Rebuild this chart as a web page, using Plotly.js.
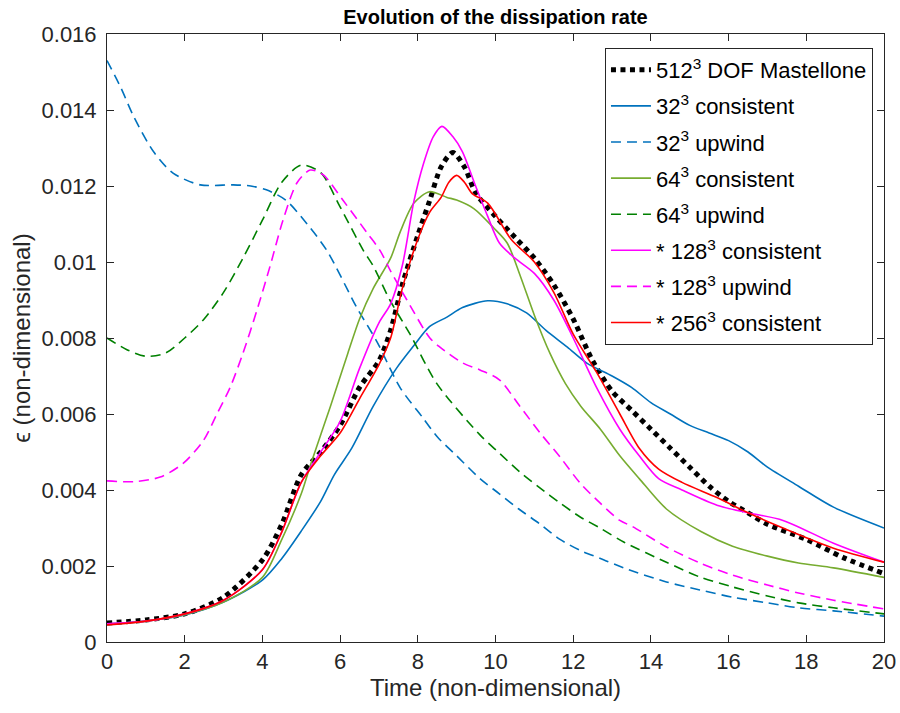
<!DOCTYPE html>
<html>
<head>
<meta charset="utf-8">
<script src="https://cdn.plot.ly/plotly-3.0.1.min.js"></script>
<style>html,body{margin:0;padding:0;background:#fff;}#chart{width:900px;height:713px;}</style>
</head>
<body>
<div id="chart"></div>
<script>
// Mastellone 512^3 DOF reference
const tMast = [0,1,2,3,4,4.5,5,5.5,6,6.5,7,7.3,7.6,8,8.3,8.6,8.9,9.2,9.5,10,10.5,11,11.5,12,12.5,13,13.5,14,14.5,15,15.5,16,16.5,17,18,19,20];
const eMast = [0.0005,0.00058,0.00074,0.00118,0.00216,0.0031,0.0044,0.0050,0.0057,0.0067,0.0074,0.0082,0.0094,0.0107,0.0116,0.0125,0.01288,0.0125,0.0118,0.0112,0.01065,0.0101,0.0094,0.0085,0.0074,0.0066,0.0061,0.0056,0.0051,0.0046,0.0041,0.0037,0.0034,0.0031,0.0027,0.0022,0.0018];

// 32^3 consistent
const t32c = [0,1,2,3,4,4.5,5,5.5,5.85,6.3,6.85,7.45,7.9,8.3,8.75,9.15,9.8,10.3,10.8,11.3,11.85,12.35,13,13.5,14,14.5,15,15.5,16,16.5,17,17.8,18.7,20];
const e32c = [0.00047,0.00055,0.00071,0.00105,0.00163,0.0022,0.00292,0.0037,0.0044,0.0051,0.0062,0.0072,0.0078,0.0083,0.00855,0.0088,0.00898,0.0089,0.00866,0.0082,0.00776,0.00734,0.0070,0.0067,0.0063,0.0060,0.0057,0.0055,0.0053,0.0050,0.0046,0.0041,0.00355,0.0030];

// 32^3 upwind
const t32u = [0,0.35,0.7,1.2,1.7,2.4,3.25,3.7,4.1,4.6,5.15,5.66,6.43,6.95,7.54,8.13,8.5,9,9.6,10.1,10.6,11.15,11.66,12.2,12.7,13.3,14.4,15.26,16.1,17,17.8,18.7,20];
const e32u = [0.0153,0.0146,0.0138,0.0129,0.01234,0.01203,0.01203,0.0120,0.0119,0.01163,0.0110,0.0103,0.0088,0.0079,0.0067,0.0059,0.0054,0.0049,0.0043,0.0039,0.0035,0.0031,0.0027,0.0024,0.0022,0.00195,0.00158,0.00137,0.00118,0.00103,0.0009,0.00082,0.00068];

// 64^3 consistent
const t64c = [0,1,2,3,4,4.5,5,5.25,5.75,6.2,6.5,6.85,7.3,7.55,7.9,8.3,8.75,9,9.45,9.95,10.3,10.65,11,11.4,11.8,12.2,12.7,13.2,13.7,14.4,15.3,16.1,17,17.8,18.7,20];
const e64c = [0.00047,0.00055,0.00072,0.00105,0.0017,0.0027,0.0039,0.0047,0.0062,0.0076,0.0085,0.0093,0.0101,0.0108,0.01155,0.01185,0.0117,0.01163,0.0114,0.0109,0.0105,0.0096,0.0086,0.0076,0.0068,0.0062,0.0056,0.0049,0.0043,0.0035,0.0029,0.00252,0.00226,0.00208,0.00195,0.0017];

// 64^3 upwind
const t64u = [0,0.5,1,1.5,2,2.5,3,3.5,4,4.5,5,5.5,6,6.6,6.85,7.28,7.8,8.49,9.6,10.1,10.63,11.15,11.66,12.18,12.69,13.3,14.4,15.26,16.1,17,17.8,18.7,20];
const e64u = [0.0080,0.0077,0.00752,0.0076,0.0080,0.0085,0.0092,0.0101,0.0111,0.0121,0.01255,0.01235,0.01145,0.0103,0.0099,0.0090,0.0081,0.0068,0.00545,0.00497,0.00447,0.00405,0.00366,0.00329,0.0030,0.00263,0.0021,0.00171,0.00145,0.00121,0.00103,0.0009,0.00074];

// 128^3 consistent
const t128c = [0,1,2,3,4,4.5,5,5.5,6,6.5,7,7.3,7.6,7.9,8.15,8.4,8.62,8.9,9.15,9.45,9.8,10.1,10.5,11,11.5,12,12.6,13.2,13.7,14.2,14.8,15.7,16.5,17.4,18.7,20];
const e128c = [0.00048,0.00055,0.00074,0.0011,0.0019,0.0029,0.0042,0.0050,0.0058,0.0072,0.0084,0.0089,0.0099,0.0116,0.0126,0.0133,0.01357,0.0133,0.0129,0.0121,0.0112,0.0105,0.0101,0.0097,0.0090,0.0080,0.0067,0.0056,0.0049,0.0043,0.0040,0.0036,0.0034,0.0032,0.0026,0.0021];

// 128^3 upwind
const t128u = [0,0.7,1.37,1.96,2.48,2.83,3.17,3.5,3.85,4.2,4.53,4.9,5.23,5.57,6.07,6.7,7.03,7.28,7.72,8.31,8.57,9.16,9.6,10.1,10.63,11.15,11.66,12.18,12.69,13.2,13.54,14.4,15.26,16.1,17,17.8,18.7,20];
const e128u = [0.00424,0.00422,0.00434,0.0047,0.0053,0.0060,0.0067,0.0076,0.0087,0.0099,0.0111,0.0121,0.01242,0.01229,0.01163,0.01076,0.0103,0.0098,0.0090,0.0080,0.00776,0.00734,0.00716,0.0069,0.0062,0.0055,0.00487,0.00418,0.00366,0.0032,0.00303,0.0025,0.00208,0.00176,0.0015,0.00129,0.0011,0.00087];

// 256^3 consistent
const t256c = [0,1,2,3,4,4.5,5,5.5,6,6.5,7,7.3,7.6,8,8.3,8.6,8.8,9.0,9.2,9.4,9.8,10.4,11,11.5,12,12.6,13.2,13.7,14.2,14.8,15.7,16.5,17.4,18.7,20];
const e256c = [0.00045,0.00055,0.00074,0.0011,0.0019,0.0029,0.0042,0.0049,0.0055,0.0064,0.0073,0.0080,0.0093,0.0106,0.0113,0.0117,0.0121,0.01228,0.0121,0.0118,0.01155,0.0106,0.0100,0.0092,0.0081,0.0071,0.0060,0.0051,0.00455,0.0042,0.0038,0.0034,0.0030,0.00247,0.0021];

const names = ['512<sup>3</sup> DOF Mastellone','32<sup>3</sup> consistent','32<sup>3</sup> upwind','64<sup>3</sup> consistent','64<sup>3</sup> upwind','* 128<sup>3</sup> consistent','* 128<sup>3</sup> upwind','* 256<sup>3</sup> consistent'];

function tr(x, y, i, color, width, dash) {
  return {x: x, y: y, name: names[i], type: 'scatter', mode: 'lines', legendgroup: 'g' + i,
    line: {color: color, width: width, dash: dash, shape: 'spline', smoothing: 0.8}};
}

const data = [
  tr(tMast, eMast, 0, '#000000', 5, '5px,4.5px'),
  tr(t32c, e32c, 1, '#0072BD', 1.6, 'solid'),
  tr(t32u, e32u, 2, '#0072BD', 1.6, '10px,6px'),
  tr(t64c, e64c, 3, '#77AC30', 1.6, 'solid'),
  tr(t64u, e64u, 4, '#008000', 1.6, '10px,6px'),
  tr(t128c, e128c, 5, '#FF00FF', 1.6, 'solid'),
  tr(t128u, e128u, 6, '#FF00FF', 1.6, '10px,6px'),
  tr(t256c, e256c, 7, '#FF0000', 1.6, 'solid')
];

const FONT = 'Liberation Sans, Arial, sans-serif';
const axisCommon = {
  showgrid: false, zeroline: false, showline: true, mirror: 'ticks',
  linecolor: '#262626', linewidth: 1, ticks: 'inside', ticklen: 7, tickcolor: '#262626',
  tickfont: {family: FONT, size: 22, color: '#262626'}
};

const layout = {
  width: 900, height: 713,
  margin: {l: 107, r: 16, t: 34, b: 71},
  paper_bgcolor: '#ffffff', plot_bgcolor: '#ffffff',
  font: {family: FONT, color: '#000000'},
  title: {text: '<b>Evolution of the dissipation rate</b>', x: 0.5, xref: 'paper', xanchor: 'center',
    y: 1 - 17/713, yref: 'container', yanchor: 'middle',
    font: {family: FONT, size: 20, color: '#000000'}},
  xaxis: Object.assign({}, axisCommon, {range: [0, 20], tickvals: [0,2,4,6,8,10,12,14,16,18,20],
    title: {text: 'Time (non-dimensional)', standoff: 5, font: {family: FONT, size: 24, color: '#262626'}}}),
  yaxis: Object.assign({}, axisCommon, {range: [0, 0.016], tickvals: [0,0.002,0.004,0.006,0.008,0.01,0.012,0.014,0.016],
    ticktext: ['0','0.002','0.004','0.006','0.008','0.01','0.012','0.014','0.016'],
    ticklabelstandoff: 5,
    title: {text: 'ϵ (non-dimensional)', standoff: 4, font: {family: FONT, size: 24, color: '#262626'}}}),
  showlegend: true,
  legend: {x: 0.9858, xanchor: 'right', y: 0.977, yanchor: 'top', xref: 'paper', yref: 'paper',
    bgcolor: '#ffffff', bordercolor: '#262626', borderwidth: 1,
    font: {family: FONT, size: 22, color: '#000000'},
    tracegroupgap: 4.5, itemwidth: 40}
};

Plotly.newPlot('chart', data, layout, {displayModeBar: false, staticPlot: true});
</script>
</body>
</html>
